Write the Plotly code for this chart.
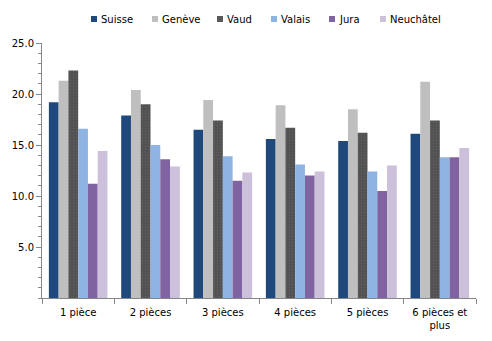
import plotly.graph_objects as go

categories = ["1 pièce", "2 pièces", "3 pièces", "4 pièces", "5 pièces", "6 pièces et<br>plus"]
suisse = [19.2, 17.9, 16.5, 15.6, 15.4, 16.1]
geneve = [21.3, 20.4, 19.4, 18.9, 18.5, 21.2]
vaud = [22.3, 19.0, 17.4, 16.7, 16.2, 17.4]
valais = [16.6, 15.0, 13.9, 13.1, 12.4, 13.8]
jura = [11.2, 13.6, 11.5, 12.0, 10.5, 13.8]
neuchatel = [14.4, 12.9, 12.3, 12.4, 13.0, 14.7]
series_names = ["Suisse", "Genève", "Vaud", "Valais", "Jura", "Neuchâtel"]
series_values = [suisse, geneve, vaud, valais, jura, neuchatel]
colors = ["#1F497D", "#BFBFBF", "#595959", "#8DB4E2", "#8064A2", "#CCC0DA"]

# legend layout (pixel positions of the legend swatches)
legend_px = [91, 152, 217, 271, 329, 380]
W, H = 492, 341
ML, MR, MT, MB = 42, 16, 43, 43
PW, PH = W - ML - MR, H - MT - MB

fig = go.Figure()
for name, vals, col in zip(series_names, series_values, colors):
    marker = dict(color=col, line=dict(width=0))
    if name == "Vaud":
        marker["pattern"] = dict(shape=".", fgcolor="#6E6E6E", bgcolor="#4F4F4F", size=3, solidity=0.3)
    fig.add_trace(go.Bar(name=name, x=categories, y=vals, marker=marker, showlegend=False))

def px_x(p):
    return (p - ML) / PW

def px_y(p):
    return 1 + (MT - p) / PH

shapes, annotations = [], []
for name, col, lx in zip(series_names, colors, legend_px):
    shapes.append(dict(type="rect", xref="paper", yref="paper",
                       x0=px_x(lx), x1=px_x(lx + 6), y0=px_y(22), y1=px_y(16),
                       fillcolor=col, line=dict(width=0)))
    annotations.append(dict(xref="paper", yref="paper", x=px_x(lx + 8), y=px_y(19.5),
                            xanchor="left", yanchor="middle", text=name, showarrow=False,
                            font=dict(size=10, color="#000000")))

fig.update_layout(
    width=W, height=H,
    margin=dict(l=ML, r=MR, t=MT, b=MB, autoexpand=False),
    barmode="group", bargap=0.19, bargroupgap=0,
    plot_bgcolor="white", paper_bgcolor="white",
    font=dict(family="DejaVu Sans", size=10, color="#000000"),
    showlegend=False,
    shapes=shapes, annotations=annotations,
    xaxis=dict(showline=True, linecolor="#868686", linewidth=1, ticks="outside",
               tickson="boundaries", ticklen=5, tickcolor="#868686", showgrid=False,
               ticklabelstandoff=5),
    yaxis=dict(range=[0, 25], showline=True, linecolor="#868686", linewidth=1,
               tickvals=[5, 10, 15, 20, 25], tickformat=".1f", ticks="outside",
               ticklen=5, tickcolor="#868686", showgrid=False, zeroline=False,
               minor=dict(dtick=1, ticks="outside", ticklen=3, tickcolor="#868686", showgrid=False)),
)
fig.write_html("out.html")
